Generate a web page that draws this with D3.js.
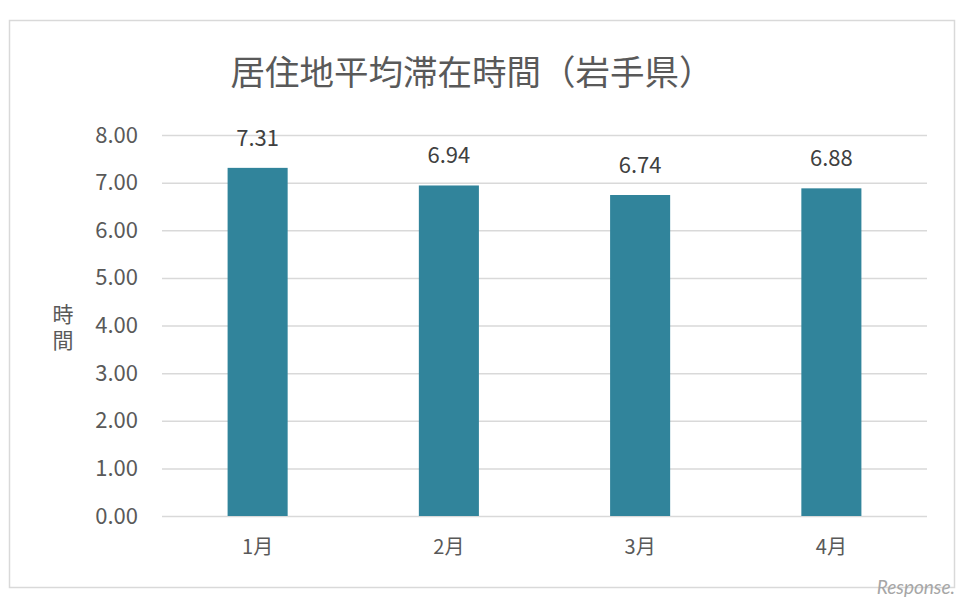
<!DOCTYPE html>
<html>
<head>
<meta charset="UTF-8">
<title></title>
<style>
  body { margin: 0; background: #fff; }
  text { font-family: "Noto Sans CJK JP", "Noto Sans", sans-serif; }
</style>
</head>
<body>
<script src="https://cdn.jsdelivr.net/npm/d3@7"></script>
<script>
  var title = "居住地平均滞在時間（岩手県）";
  var months = ["1月", "2月", "3月", "4月"];
  var hours = [7.31, 6.94, 6.74, 6.88];
  var yTicks = [0, 1, 2, 3, 4, 5, 6, 7, 8];
  var yLabel = "時間";

  var svg = d3.select("body").append("svg")
    .attr("width", 968)
    .attr("height", 608);

  // chart frame
  svg.append("rect")
    .attr("x", 9.5).attr("y", 20.5)
    .attr("width", 945).attr("height", 567)
    .attr("fill", "#fff")
    .attr("stroke", "#d9d9d9")
    .attr("stroke-width", 1.5);

  var x = d3.scaleBand()
    .domain(months)
    .range([162, 927])
    .paddingInner(0.686)
    .paddingOuter(0.343);

  var y = d3.scaleLinear()
    .domain([0, 8])
    .range([516, 135]);

  svg.append("text")
    .attr("x", 472).attr("y", 85)
    .attr("text-anchor", "middle")
    .attr("font-size", 34.5)
    .attr("fill", "#595959")
    .text(title);

  // gridlines + y tick labels
  var yAxis = svg.append("g")
    .attr("transform", "translate(162,0)")
    .call(d3.axisLeft(y).tickValues(yTicks)
      .tickSize(-765).tickPadding(24)
      .tickFormat(d3.format(".2f")));
  yAxis.select(".domain").remove();
  yAxis.selectAll("line").attr("stroke", "#d9d9d9").attr("stroke-width", 1.5);
  yAxis.selectAll("text")
    .attr("font-size", 22)
    .attr("fill", "#595959")
    .style("font-family", '"Noto Sans CJK JP", sans-serif');

  svg.append("g").selectAll("rect")
    .data(hours)
    .enter()
    .append("rect")
    .attr("x", function(d, i) { return x(months[i]); })
    .attr("y", function(d) { return y(d); })
    .attr("width", x.bandwidth())
    .attr("height", function(d) { return y(0) - y(d); })
    .attr("fill", "#31849b");

  svg.append("g").selectAll("text")
    .data(hours)
    .enter()
    .append("text")
    .attr("x", function(d, i) { return x(months[i]) + x.bandwidth() / 2; })
    .attr("y", function(d) { return y(d) - 22; })
    .attr("text-anchor", "middle")
    .attr("font-size", 22)
    .attr("fill", "#404040")
    .text(function(d) { return d3.format(".2f")(d); });

  // x axis labels
  var xAxis = svg.append("g")
    .attr("transform", "translate(0,516)")
    .call(d3.axisBottom(x).tickSize(0).tickPadding(24));
  xAxis.select(".domain").remove();
  xAxis.selectAll("text")
    .attr("font-size", 20)
    .attr("fill", "#595959")
    .style("font-family", '"Noto Sans CJK JP", sans-serif');

  // y axis title, stacked vertically
  svg.append("text")
    .attr("x", 63).attr("y", 330)
    .attr("text-anchor", "middle")
    .style("writing-mode", "vertical-rl")
    .style("letter-spacing", "5px")
    .attr("font-size", 21)
    .attr("fill", "#595959")
    .text(yLabel);

  // watermark
  svg.append("text")
    .attr("x", 955).attr("y", 594)
    .attr("text-anchor", "end")
    .attr("font-size", 19)
    .attr("font-style", "italic")
    .attr("fill", "#a6a6a6")
    .style("font-family", "Lato, sans-serif")
    .text("Response.");
</script>
</body>
</html>
